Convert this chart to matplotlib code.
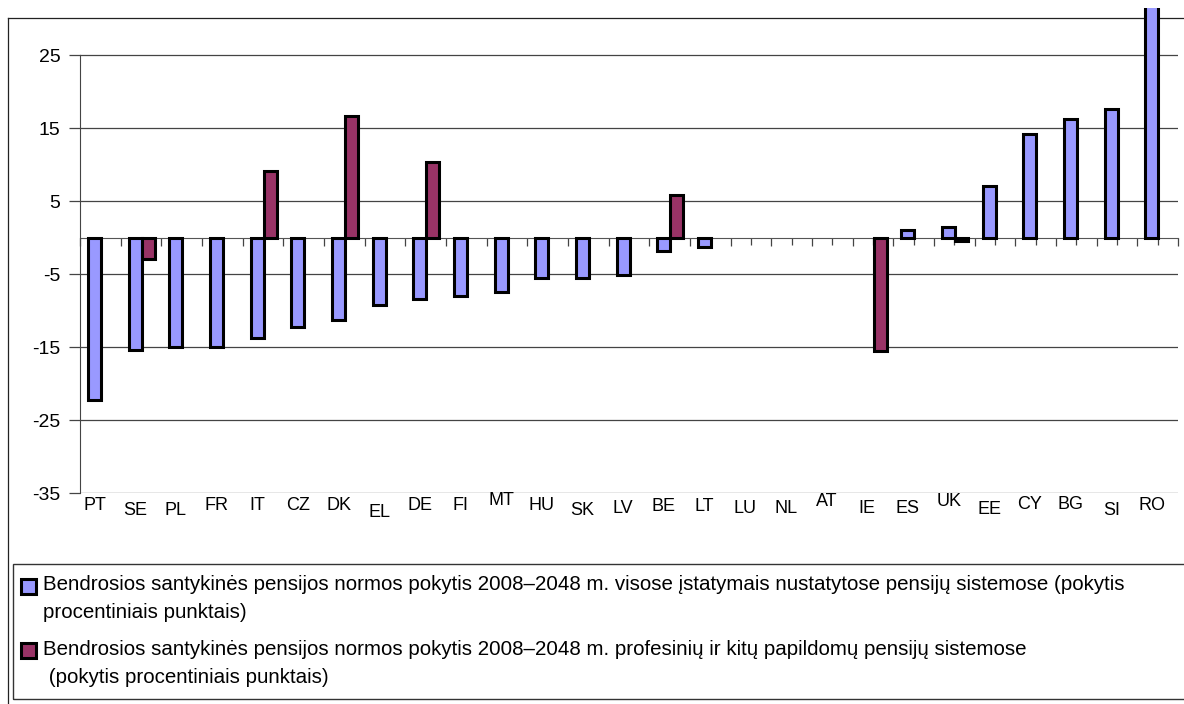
import matplotlib.pyplot as plt
import numpy as np
from matplotlib.lines import Line2D
from matplotlib.patches import Rectangle
from matplotlib.transforms import offset_copy

plt.rcParams['font.family'] = ['Liberation Sans', 'DejaVu Sans']
plt.rcParams['axes.unicode_minus'] = False

countries = ['PT', 'SE', 'PL', 'FR', 'IT', 'CZ', 'DK', 'EL', 'DE', 'FI', 'MT', 'HU', 'SK', 'LV',
             'BE', 'LT', 'LU', 'NL', 'AT', 'IE', 'ES', 'UK', 'EE', 'CY', 'BG', 'SI', 'RO']
nan = np.nan
# statutory schemes (blue)
statutory = [-22.2, -15.4, -15.0, -15.0, -13.8, -12.2, -11.3, -9.2, -8.4, -8.0, -7.5, -5.5, -5.5, -5.1,
             -1.8, -1.3, nan, nan, nan, nan, 1.0, 1.4, 7.0, 14.2, 16.3, 17.6, 33.0]
# occupational / supplementary schemes (red)
occupational = [nan, -3.0, nan, nan, 9.1, nan, 16.7, nan, 10.4, nan, nan, nan, nan, nan,
                5.8, nan, nan, nan, nan, -15.5, nan, -0.5, nan, nan, nan, nan, nan]
y_ticks = [25, 15, 5, -5, -15, -25, -35]
legend_labels = [
    'Bendrosios santykinės pensijos normos pokytis 2008–2048 m. visose įstatymais nustatytose pensijų sistemose (pokytis\nprocentiniais punktais)',
    'Bendrosios santykinės pensijos normos pokytis 2008–2048 m. profesinių ir kitų papildomų pensijų sistemose\n (pokytis procentiniais punktais)',
]

# layout / style
label_nudge = [0, 5, 5, 0, 0, 0, 0, 7, 0, 0, -5, 0, 5, 3, 1, 1, 3, 3, -4, 3, 3, -4, 4, -1, -1, 5, 0]  # px
blue = '#9999ff'
red = '#993366'
W, H = 1184, 704

fig = plt.figure(figsize=(W / 100, H / 100), dpi=100)
fx = lambda px: px / W
fy = lambda py: 1 - py / H

# outer frame (partly cropped in the original)
fig.add_artist(Line2D([fx(7.5), fx(7.5)], [fy(17.5), fy(704)], color='#222222', lw=0.9, zorder=0))
fig.add_artist(Line2D([fx(7.5), fx(1184)], [fy(17.5), fy(17.5)], color='#222222', lw=0.9, zorder=0))

ax = fig.add_axes([fx(80), fy(493), fx(1178) - fx(80), fy(8.3) - fy(493)])
ax.set_zorder(1)
ax.patch.set_alpha(0)

idx = np.arange(len(countries))
ax.bar(idx + 0.36, statutory, width=0.32, color=blue, edgecolor='black', linewidth=2.2, zorder=3)
ax.bar(idx + 0.68, occupational, width=0.32, color=red, edgecolor='black', linewidth=2.2, zorder=3)

ax.set_xlim(0, len(countries))
ax.set_ylim(-35, 31.4)
ax.set_yticks(y_ticks)
ax.yaxis.grid(True, color='#444444', lw=0.9)
ax.set_axisbelow(True)
ax.tick_params(axis='y', length=8, width=0.9, color='#444444', pad=6, labelsize=14)

ax.spines['top'].set_visible(False)
ax.spines['right'].set_visible(False)
ax.spines['left'].set_bounds(-35, 25)
ax.spines['left'].set_color('#444444')
ax.spines['bottom'].set_position(('data', 0))
ax.spines['bottom'].set_color('#555555')
ax.spines['bottom'].set_zorder(2)
ax.set_xticks(np.arange(len(countries) + 1))
ax.set_xticks(idx + 0.5, minor=True)
ax.tick_params(axis='x', which='both', direction='out', length=6, width=0.9, color='#444444',
               labelbottom=False)
ax.tick_params(axis='x', which='minor', length=5)

for i, c in enumerate(countries):
    tr = offset_copy(ax.get_xaxis_transform(), fig=fig, x=0, y=-(4 + label_nudge[i]) * 0.72, units='points')
    ax.text(i + 0.36, 0, c, transform=tr, ha='center', va='top', fontsize=13)

# legend box
fig.add_artist(Rectangle((fx(13.3), fy(699)), fx(1200) - fx(13.3), fy(564) - fy(699),
                         transform=fig.transFigure, fill=False, edgecolor='#333333', lw=1.0))
marker_tops = [578.5, 642.5]
baselines = [590, 655]
for col, lab, mt, bl in zip([blue, red], legend_labels, marker_tops, baselines):
    fig.add_artist(Rectangle((fx(20.5), fy(mt + 15)), fx(15), fy(0) - fy(15),
                             transform=fig.transFigure, facecolor=col, edgecolor='black', lw=2.2))
    for k, line in enumerate(lab.split('\n')):
        fig.text(fx(43.3), fy(bl + k * 28.3), line, fontsize=14.8, va='baseline', ha='left')

fig.savefig('out.png', dpi=100)
plt.close('all')
